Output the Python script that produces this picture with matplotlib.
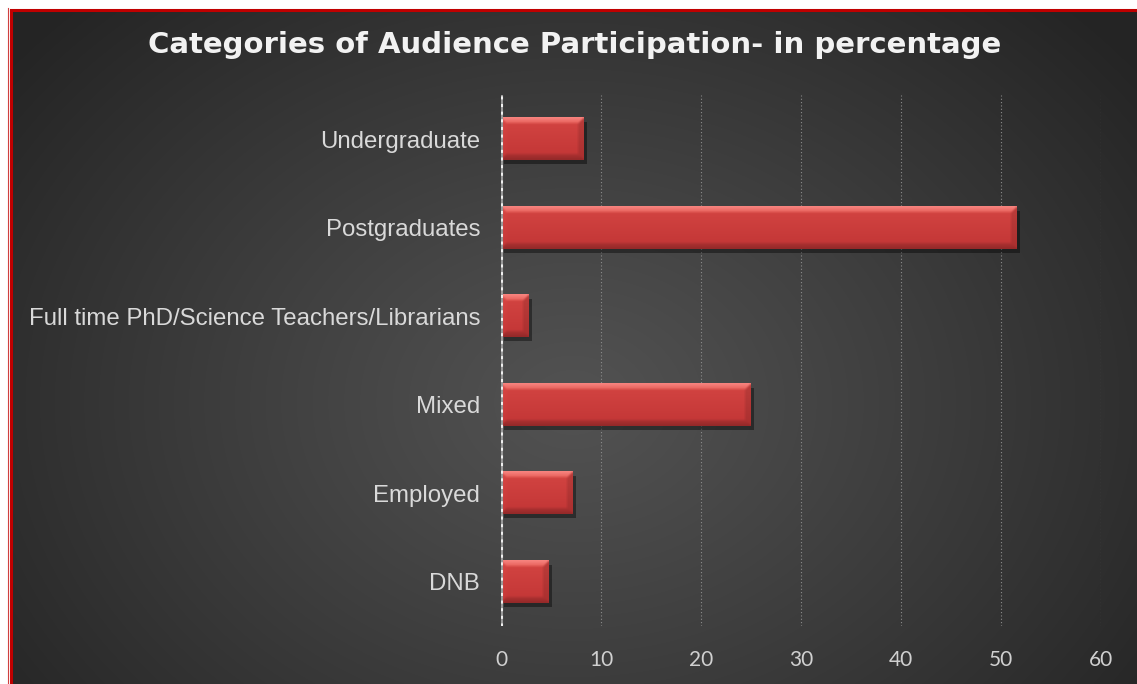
import numpy as np
import matplotlib.pyplot as plt
from matplotlib import patheffects
from matplotlib.lines import Line2D

categories = ['Undergraduate', 'Postgraduates', 'Full time PhD/Science Teachers/Librarians',
              'Mixed', 'Employed', 'DNB']
values = [8.3, 51.6, 2.8, 25.0, 7.2, 4.8]
x_ticks = [0, 10, 20, 30, 40, 50, 60]
title = 'Categories of Audience Participation- in percentage'

W, H = 1137, 684
fig = plt.figure(figsize=(W / 100, H / 100), dpi=100, facecolor='white')

# dark radial background
bg = fig.add_axes([12 / W, 0, 1 - 12 / W, (H - 12) / H])
yy, xx = np.mgrid[0:H - 12, 0:W - 12]
d = np.sqrt(((xx - 560) / 720) ** 2 + ((yy - 390) / 560) ** 2)
d = np.clip(d, 0, 1)
inner = np.array([0x52, 0x52, 0x52]) / 255
outer = np.array([0x24, 0x24, 0x24]) / 255
img = inner + (outer - inner) * (d[..., None] ** 1.1)
bg.imshow(img, aspect='auto', interpolation='bilinear')
bg.axis('off')

# red frame
fig.add_artist(Line2D([7.5 / W, 7.5 / W], [0, (H - 7.5) / H], color='#d04040', lw=0.8))
fig.add_artist(Line2D([10.5 / W, 10.5 / W], [0, (H - 10.5) / H], color='#c00000', lw=2.2))
fig.add_artist(Line2D([10.5 / W, 1], [(H - 10) / H, (H - 10) / H], color='#c00000', lw=2.2))

# main axes
ax = fig.add_axes([501 / W, (H - 626) / H, 600 / W, 531 / H])
ax.set_facecolor('none')
y = np.arange(len(categories))
bar_h = 0.475
bars = ax.barh(y, values, height=bar_h, color='#c93a38', zorder=3)
for b in bars:
    b.set_path_effects([patheffects.SimplePatchShadow(offset=(2, -3), shadow_rgbFace='black', alpha=0.4),
                        patheffects.Normal()])


def soften(a, k=1):
    out = a.copy()
    for ax_ in (0, 1):
        p = np.pad(out, [(k, k) if i == ax_ else (0, 0) for i in range(3)], mode='edge')
        n = a.shape[ax_]
        out = sum(np.take(p, range(j, j + n), axis=ax_) for j in range(2 * k + 1)) / (2 * k + 1)
    return out


def bevel(w, h, b=6):
    yy, xx = np.mgrid[0:h, 0:w]
    dt, db, dl, dr = yy, h - 1 - yy, xx, w - 1 - xx
    t = (yy / max(h - 1, 1))[..., None]
    face = np.array([0.83, 0.27, 0.26]) * (1 - t) + np.array([0.76, 0.21, 0.21]) * t
    out = face.copy()
    m = np.minimum(np.minimum(dt, db), np.minimum(dl, dr))
    top = (dt == m) & (dt < b)
    bot = (db == m) & (db < b) & ~top
    rgt = (dr == m) & (dr < b) & ~top & ~bot
    lft = (dl == m) & (dl < b) & ~top & ~bot & ~rgt
    tt = (dt / b)[..., None]
    tb = (db / b)[..., None]
    top_col = np.array([0.90, 0.36, 0.34]) * tt + np.array([0.97, 0.52, 0.50]) * (1 - tt)
    bot_col = np.array([0.70, 0.20, 0.20]) * tb + np.array([0.58, 0.16, 0.16]) * (1 - tb)
    out[top] = top_col[top]
    out[bot] = bot_col[bot]
    out[rgt] = face[rgt] * 0.88
    out[lft] = face[lft] * 1.02
    return np.clip(soften(out, 1), 0, 1)


px_per_unit = 600 / 60
for i, v in enumerate(values):
    wpx = max(int(round(v * px_per_unit)), 2)
    hpx = int(round(bar_h * 531 / len(categories)))
    ax.imshow(bevel(wpx, hpx), extent=(0, v, i - bar_h / 2, i + bar_h / 2), origin='lower',
              aspect='auto', interpolation='bilinear', zorder=3.5)

ax.set_xlim(0, 60)
ax.set_ylim(len(categories) - 0.5, -0.5)
ax.set_xticks(x_ticks)
ax.set_yticks(y, categories)
ax.tick_params(axis='y', length=0, pad=15, labelsize=17.3, labelcolor='#d9d9d9')
ax.tick_params(axis='x', length=0, pad=17, labelsize=15, labelcolor='#d0d0d0')
for lab in ax.get_yticklabels():
    lab.set_family('Liberation Sans')
for lab in ax.get_xticklabels():
    lab.set_family('Lato')
for s in ax.spines.values():
    s.set_visible(False)
ax.grid(axis='x', color='#8c8c8c', ls=(0, (1, 2)), lw=0.8)
ax.set_axisbelow(True)
ax.axvline(0, color='#9a9a9a', lw=2.2, zorder=4)
ax.axvline(0, color='#f0f0f0', lw=2.2, ls=(0, (1, 1.5)), zorder=4)

fig.text(574.5 / W, (H - 45) / H, title, ha='center', va='center', fontsize=21,
         fontweight='bold', color='#f2f2f2', family='DejaVu Sans')

fig.savefig('out.png', dpi=100, facecolor='white')
